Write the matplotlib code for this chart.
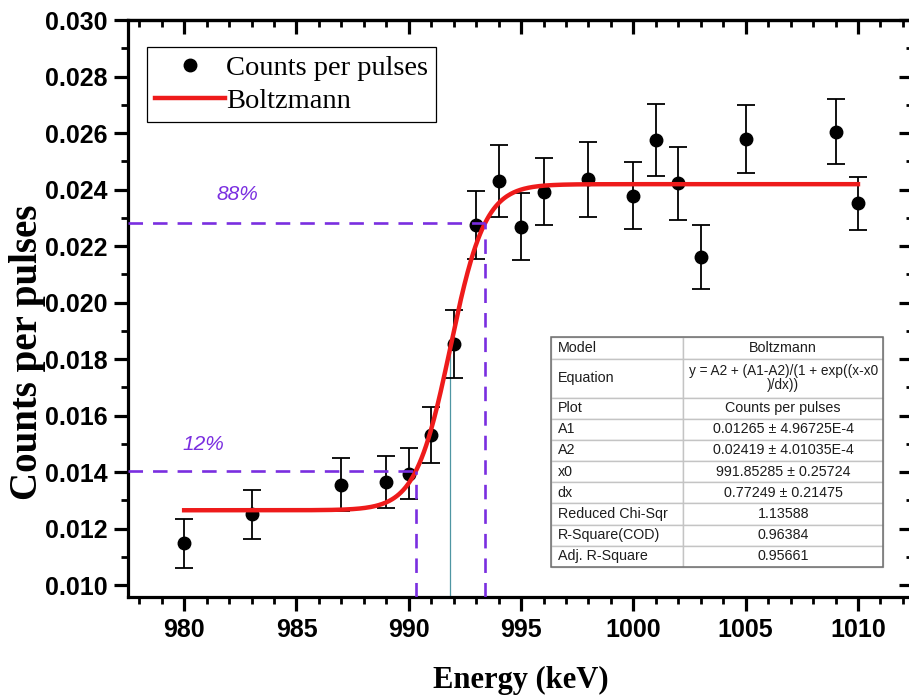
import numpy as np
import matplotlib.pyplot as plt
from matplotlib.ticker import MultipleLocator, FormatStrFormatter
from matplotlib.patches import Rectangle
from matplotlib.table import Table

# counts per pulse measured at each beam energy (keV)
energy = [980, 983, 987, 989, 990, 991, 992, 993, 994, 995,
          996, 998, 1000, 1001, 1002, 1003, 1005, 1009, 1010]
counts = [0.01148, 0.01250, 0.01356, 0.01365, 0.01395, 0.01531, 0.01852,
          0.02274, 0.02430, 0.02268, 0.02392, 0.02437, 0.02378, 0.02575,
          0.02422, 0.02162, 0.02578, 0.02605, 0.02351]
errors = [0.00086, 0.00085, 0.00093, 0.00091, 0.00091, 0.00099, 0.00120,
          0.00120, 0.00126, 0.00119, 0.00119, 0.00133, 0.00119, 0.00127,
          0.00129, 0.00114, 0.00121, 0.00116, 0.00094]

# Boltzmann fit results
A1, A1_err = 0.01265, 4.96725e-4
A2, A2_err = 0.02419, 4.01035e-4
x0, x0_err = 991.85285, 0.25724
dx, dx_err = 0.77249, 0.21475
chi2_red = 1.13588
r2_cod = 0.96384
r2_adj = 0.95661

levels = [0.12, 0.88]

xlim = (977.5, 1012.45)
ylim = (0.00958, 0.030)

purple = '#7a2ee0'
red = '#ee1b1b'


def boltzmann(x):
    return A2 + (A1 - A2) / (1 + np.exp((x - x0) / dx))


def sci(v):
    m, e = f"{v:.5E}".split("E")
    return f"{m}E{int(e)}"


fig = plt.figure(figsize=(9.09, 6.97), dpi=100)
ax = fig.add_axes([128 / 909, 1 - 597 / 697, 785 / 909, 577 / 697])
ax.set_xlim(*xlim)
ax.set_ylim(*ylim)

# data with error bars
ax.errorbar(energy, counts, yerr=errors, fmt='none', ecolor='k',
            elinewidth=1.3, capsize=6.5, capthick=1.3, zorder=2)
ax.plot(energy, counts, 'o', color='k', ms=9, label='Counts per pulses', zorder=3)

# fitted curve
xs = np.linspace(min(energy), max(energy), 600)
ax.plot(xs, boltzmann(xs), color=red, lw=3.2, label='Boltzmann', zorder=4)

# centre of the edge
ax.plot([x0, x0], [ylim[0], boltzmann(x0)], color='#4f96a3', lw=0.9, zorder=1)

# 12% / 88% markers
label_pos = {0.12: (980.85, 0.01498), 0.88: (982.37, 0.02384)}
for f in levels:
    xl = x0 + dx * np.log(f / (1 - f))
    yl = boltzmann(xl)
    ax.plot([xlim[0], xl], [yl, yl], color=purple, lw=1.9, dashes=(5.5, 3.8), zorder=5)
    ax.plot([xl, xl], [ylim[0], yl], color=purple, lw=1.9, dashes=(5.5, 3.8), zorder=5)
    tx, ty = label_pos[f]
    ax.text(tx, ty, f"{int(round(f * 100))}%", color=purple, fontsize=15,
            fontfamily='Liberation Sans', fontstyle='italic', ha='center', va='center')

# axes styling
for sp in ax.spines.values():
    sp.set_linewidth(2.3)
ax.xaxis.set_major_locator(MultipleLocator(5))
ax.xaxis.set_minor_locator(MultipleLocator(1))
ax.yaxis.set_major_locator(MultipleLocator(0.002))
ax.yaxis.set_minor_locator(MultipleLocator(0.001))
ax.yaxis.set_major_formatter(FormatStrFormatter('%.3f'))
ax.tick_params(which='both', direction='out', top=False, right=False)
ax.tick_params(which='major', length=10, width=2.3, pad=5)
ax.tick_params(which='minor', length=5, width=2.0)
for lab in ax.get_xticklabels() + ax.get_yticklabels():
    lab.set_fontfamily('Liberation Sans')
    lab.set_fontweight('bold')
    lab.set_fontsize(18)

top = ax.secondary_xaxis('top')
top.xaxis.set_major_locator(MultipleLocator(5))
top.xaxis.set_minor_locator(MultipleLocator(1))
top.tick_params(which='both', direction='in', labeltop=False)
top.tick_params(which='major', length=10, width=2.3)
top.tick_params(which='minor', length=5, width=2.0)
top.spines['top'].set_linewidth(2.3)

right = ax.secondary_yaxis('right')
right.yaxis.set_major_locator(MultipleLocator(0.002))
right.yaxis.set_minor_locator(MultipleLocator(0.001))
right.tick_params(which='both', direction='in', labelright=False)
right.tick_params(which='major', length=10, width=2.3)
right.tick_params(which='minor', length=5, width=2.0)
right.spines['right'].set_linewidth(2.3)

ax.set_xlabel('Energy (keV)', fontfamily='Liberation Serif', fontweight='bold', fontsize=22)
ax.set_ylabel('Counts per pulses', fontfamily='Liberation Serif', fontweight='bold', fontsize=28)
ax.xaxis.set_label_coords(0.5, -0.12)
ax.yaxis.set_label_coords(-0.104, 0.425)

leg = ax.legend(loc='upper left', bbox_to_anchor=(0.024, 0.953), borderaxespad=0,
                fancybox=False, edgecolor='k', framealpha=1,
                prop={'family': 'Liberation Serif', 'size': 20.5},
                handlelength=2.45, handletextpad=0.05, borderpad=0.28,
                labelspacing=0.25)
leg.get_frame().set_linewidth(0.9)

# fit summary table
rows = [
    ("Model", "Boltzmann"),
    ("Equation", "y = A2 + (A1-A2)/(1 + exp((x-x0\n)/dx))"),
    ("Plot", "Counts per pulses"),
    ("A1", f"{A1:.5f} ± {sci(A1_err)}"),
    ("A2", f"{A2:.5f} ± {sci(A2_err)}"),
    ("x0", f"{x0:.5f} ± {x0_err:.5f}"),
    ("dx", f"{dx:.5f} ± {dx_err:.5f}"),
    ("Reduced Chi-Sqr", f"{chi2_red:.5f}"),
    ("R-Square(COD)", f"{r2_cod:.5f}"),
    ("Adj. R-Square", f"{r2_adj:.5f}"),
]
row_h = [22, 38] + [21] * 8
col_w = [132, 200]
tbox = [0.539, 0.052, 0.423, 0.3986]
tab = Table(ax, bbox=tbox)
for r, (name, val) in enumerate(rows):
    for c, txt in enumerate((name, val)):
        cell = tab.add_cell(r, c, col_w[c], row_h[r], text=txt,
                            loc='left' if c == 0 else 'center',
                            edgecolor='#c4c4c4', facecolor='white')
        cell.PAD = 0.05
        cell.set_linewidth(1.0)
        cell.get_text().set_fontsize(9.8 if r == 1 and c == 1 else 10.3)
        cell.get_text().set_fontfamily('Liberation Sans')
        cell.get_text().set_color('#1c1c1c')
        cell.get_text().set_linespacing(1.0)
tab.auto_set_font_size(False)
tab.set_zorder(6)
ax.add_table(tab)
ax.add_patch(Rectangle((tbox[0], tbox[1]), tbox[2], tbox[3], transform=ax.transAxes,
                       fill=False, ec='#6e6e6e', lw=1.1, zorder=7))

fig.savefig('out.png', dpi=100)
